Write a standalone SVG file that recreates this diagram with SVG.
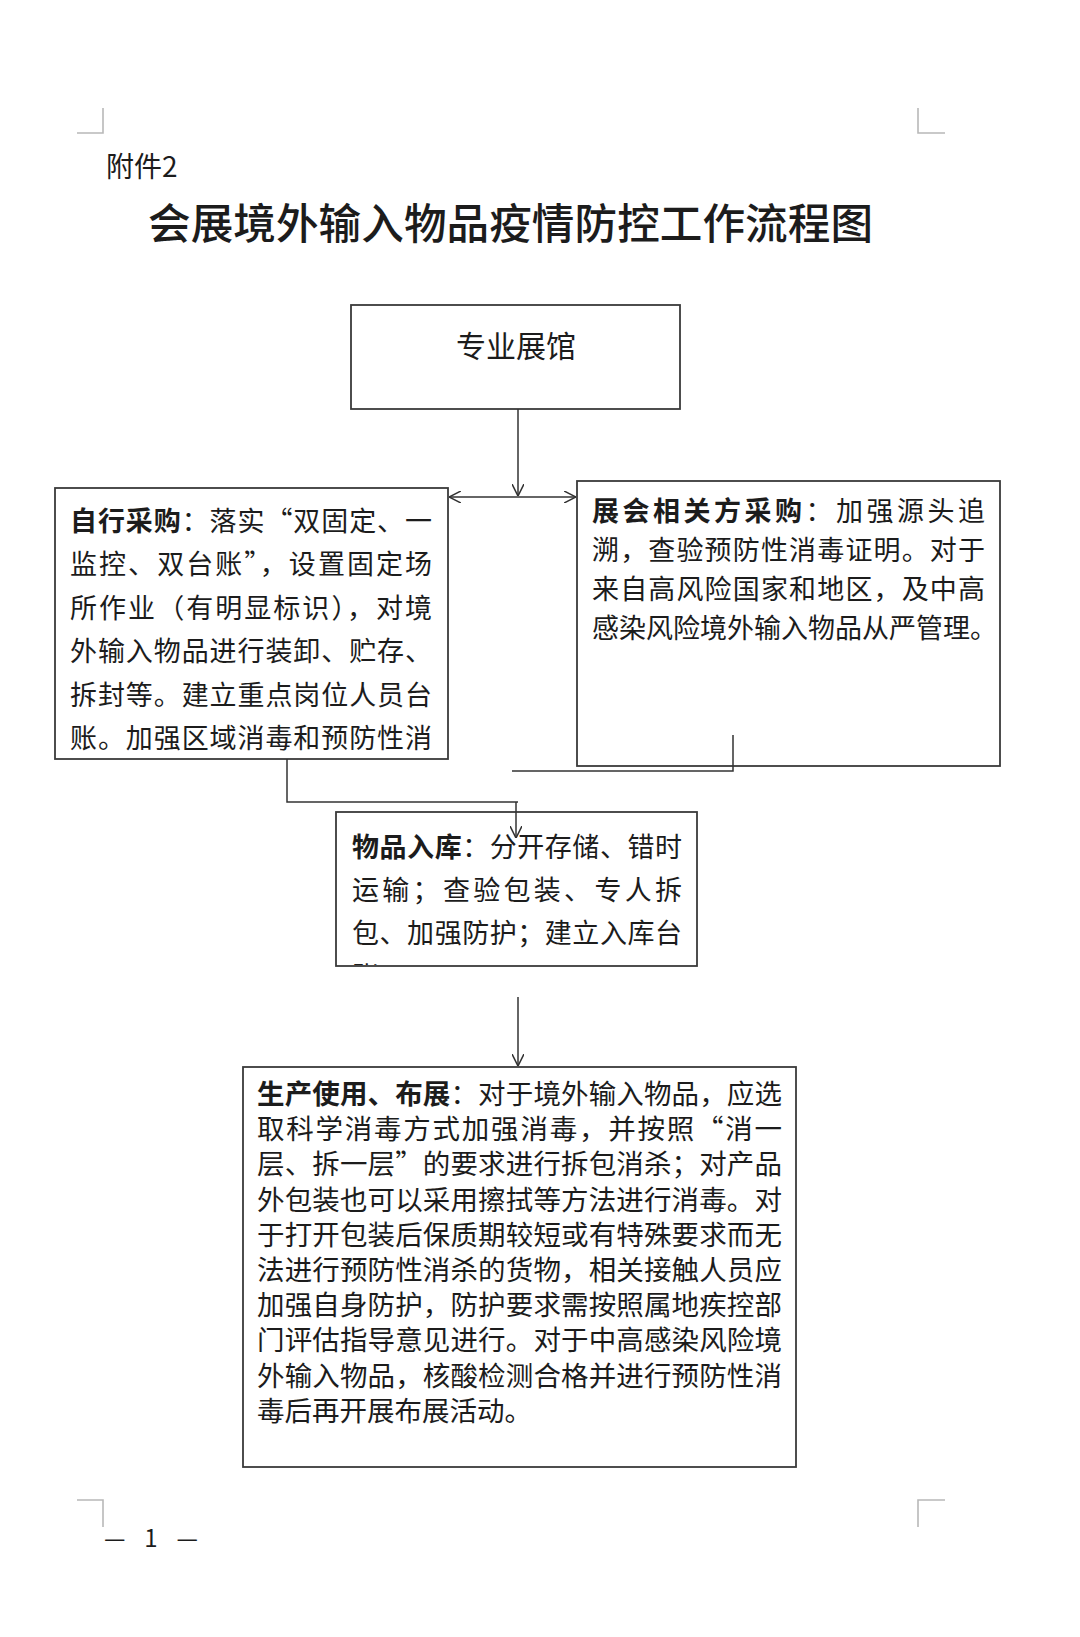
<svg xmlns="http://www.w3.org/2000/svg" width="1080" height="1637" viewBox="0 0 1080 1637">
<style>
.t{font-family:"Noto Sans CJK SC","Noto Sans CJK JP",sans-serif;fill:#1c1c1c}
.b{font-weight:700}
.box{fill:#fff;stroke:#3a3a3a;stroke-width:1.8}
.crop{stroke:#b8b8b8;stroke-width:1.6;fill:none}
.c{stroke:#333;stroke-width:1.5;fill:none}
</style>
<defs>
<marker id="arr" viewBox="0 0 10 10" refX="10" refY="5" markerWidth="12" markerHeight="12" markerUnits="userSpaceOnUse" orient="auto-start-reverse">
<path d="M0,0 L10,5 L0,10" fill="none" stroke="#333" stroke-width="1.3"/>
</marker>
<clipPath id="clipStore"><rect x="337" y="813" width="359" height="152"/></clipPath>
</defs>
<rect width="1080" height="1637" fill="#fff"/>

<g id="cropmarks">
<path class="crop" d="M77,133 H103 V108"/>
<path class="crop" d="M945,133 H918 V108"/>
<path class="crop" d="M77,1500 H103 V1527"/>
<path class="crop" d="M945,1500 H918 V1527"/>
</g>

<text class="t" x="106" y="177" font-size="28">附件2</text>
<text class="t" x="148" y="239" font-size="42.6" font-weight="500" textLength="725" lengthAdjust="spacing">会展境外输入物品疫情防控工作流程图</text>

<g id="node-venue">
<rect class="box" x="351" y="305" width="329" height="104"/>
<text class="t" x="516" y="357" font-size="30" text-anchor="middle">专业展馆</text>
</g>

<g id="node-self">
<rect class="box" x="55" y="488" width="393" height="271"/>
<g class="t" font-size="27">
<text x="70" y="531" textLength="362" lengthAdjust="spacing"><tspan class="b">自行采购</tspan>：落实“双固定、一</text>
<text x="70" y="574.4" textLength="362" lengthAdjust="spacing">监控、双台账”，设置固定场</text>
<text x="70" y="617.8" textLength="362" lengthAdjust="spacing">所作业（有明显标识），对境</text>
<text x="70" y="661.2" textLength="362" lengthAdjust="spacing">外输入物品进行装卸、贮存、</text>
<text x="70" y="704.6" textLength="362" lengthAdjust="spacing">拆封等。建立重点岗位人员台</text>
<text x="70" y="748" textLength="362" lengthAdjust="spacing">账。加强区域消毒和预防性消</text>
</g>
</g>

<g id="node-related">
<rect class="box" x="577" y="481" width="423" height="285"/>
<g class="t" font-size="27">
<text x="592" y="521" textLength="393" lengthAdjust="spacing"><tspan class="b">展会相关方采购</tspan>：加强源头追</text>
<text x="592" y="560" textLength="393" lengthAdjust="spacing">溯，查验预防性消毒证明。对于</text>
<text x="592" y="599" textLength="393" lengthAdjust="spacing">来自高风险国家和地区，及中高</text>
<text x="592" y="638">感染风险境外输入物品从严管理。</text>
</g>
</g>

<g id="node-store">
<rect class="box" x="336" y="812" width="361" height="154"/>
<g class="t" font-size="27">
<text x="352" y="857" textLength="330" lengthAdjust="spacing"><tspan class="b">物品入库</tspan>：分开存储、错时</text>
<text x="352" y="900" textLength="330" lengthAdjust="spacing">运输；查验包装、专人拆</text>
<text x="352" y="943" textLength="330" lengthAdjust="spacing">包、加强防护；建立入库台</text>
<text x="352" y="986" clip-path="url(#clipStore)">账。</text>
</g>
</g>

<g id="node-use">
<rect class="box" x="243" y="1067" width="553" height="400"/>
<g class="t" font-size="27.5">
<text x="257" y="1104" textLength="525" lengthAdjust="spacing"><tspan class="b">生产使用、布展</tspan>：对于境外输入物品，应选</text>
<text x="257" y="1139.2" textLength="525" lengthAdjust="spacing">取科学消毒方式加强消毒，并按照“消一</text>
<text x="257" y="1174.4" textLength="525" lengthAdjust="spacing">层、拆一层”的要求进行拆包消杀；对产品</text>
<text x="257" y="1209.6" textLength="525" lengthAdjust="spacing">外包装也可以采用擦拭等方法进行消毒。对</text>
<text x="257" y="1244.8" textLength="525" lengthAdjust="spacing">于打开包装后保质期较短或有特殊要求而无</text>
<text x="257" y="1280" textLength="525" lengthAdjust="spacing">法进行预防性消杀的货物，相关接触人员应</text>
<text x="257" y="1315.2" textLength="525" lengthAdjust="spacing">加强自身防护，防护要求需按照属地疾控部</text>
<text x="257" y="1350.4" textLength="525" lengthAdjust="spacing">门评估指导意见进行。对于中高感染风险境</text>
<text x="257" y="1385.6" textLength="525" lengthAdjust="spacing">外输入物品，核酸检测合格并进行预防性消</text>
<text x="257" y="1420.8">毒后再开展布展活动。</text>
</g>
</g>

<g id="connectors">
<line class="c" x1="518" y1="409" x2="518" y2="496" marker-end="url(#arr)"/>
<line class="c" x1="449" y1="497" x2="576" y2="497" marker-start="url(#arr)" marker-end="url(#arr)"/>
<path class="c" d="M287,759 V802 H518"/>
<line class="c" x1="516" y1="802" x2="516" y2="838" marker-end="url(#arr)"/>
<path class="c" d="M733,735 V771 H512"/>
<line class="c" x1="518" y1="997" x2="518" y2="1066" marker-end="url(#arr)"/>
</g>

<text class="t" x="104" y="1547" font-size="24" textLength="94" lengthAdjust="spacing">— 1 —</text>
</svg>
